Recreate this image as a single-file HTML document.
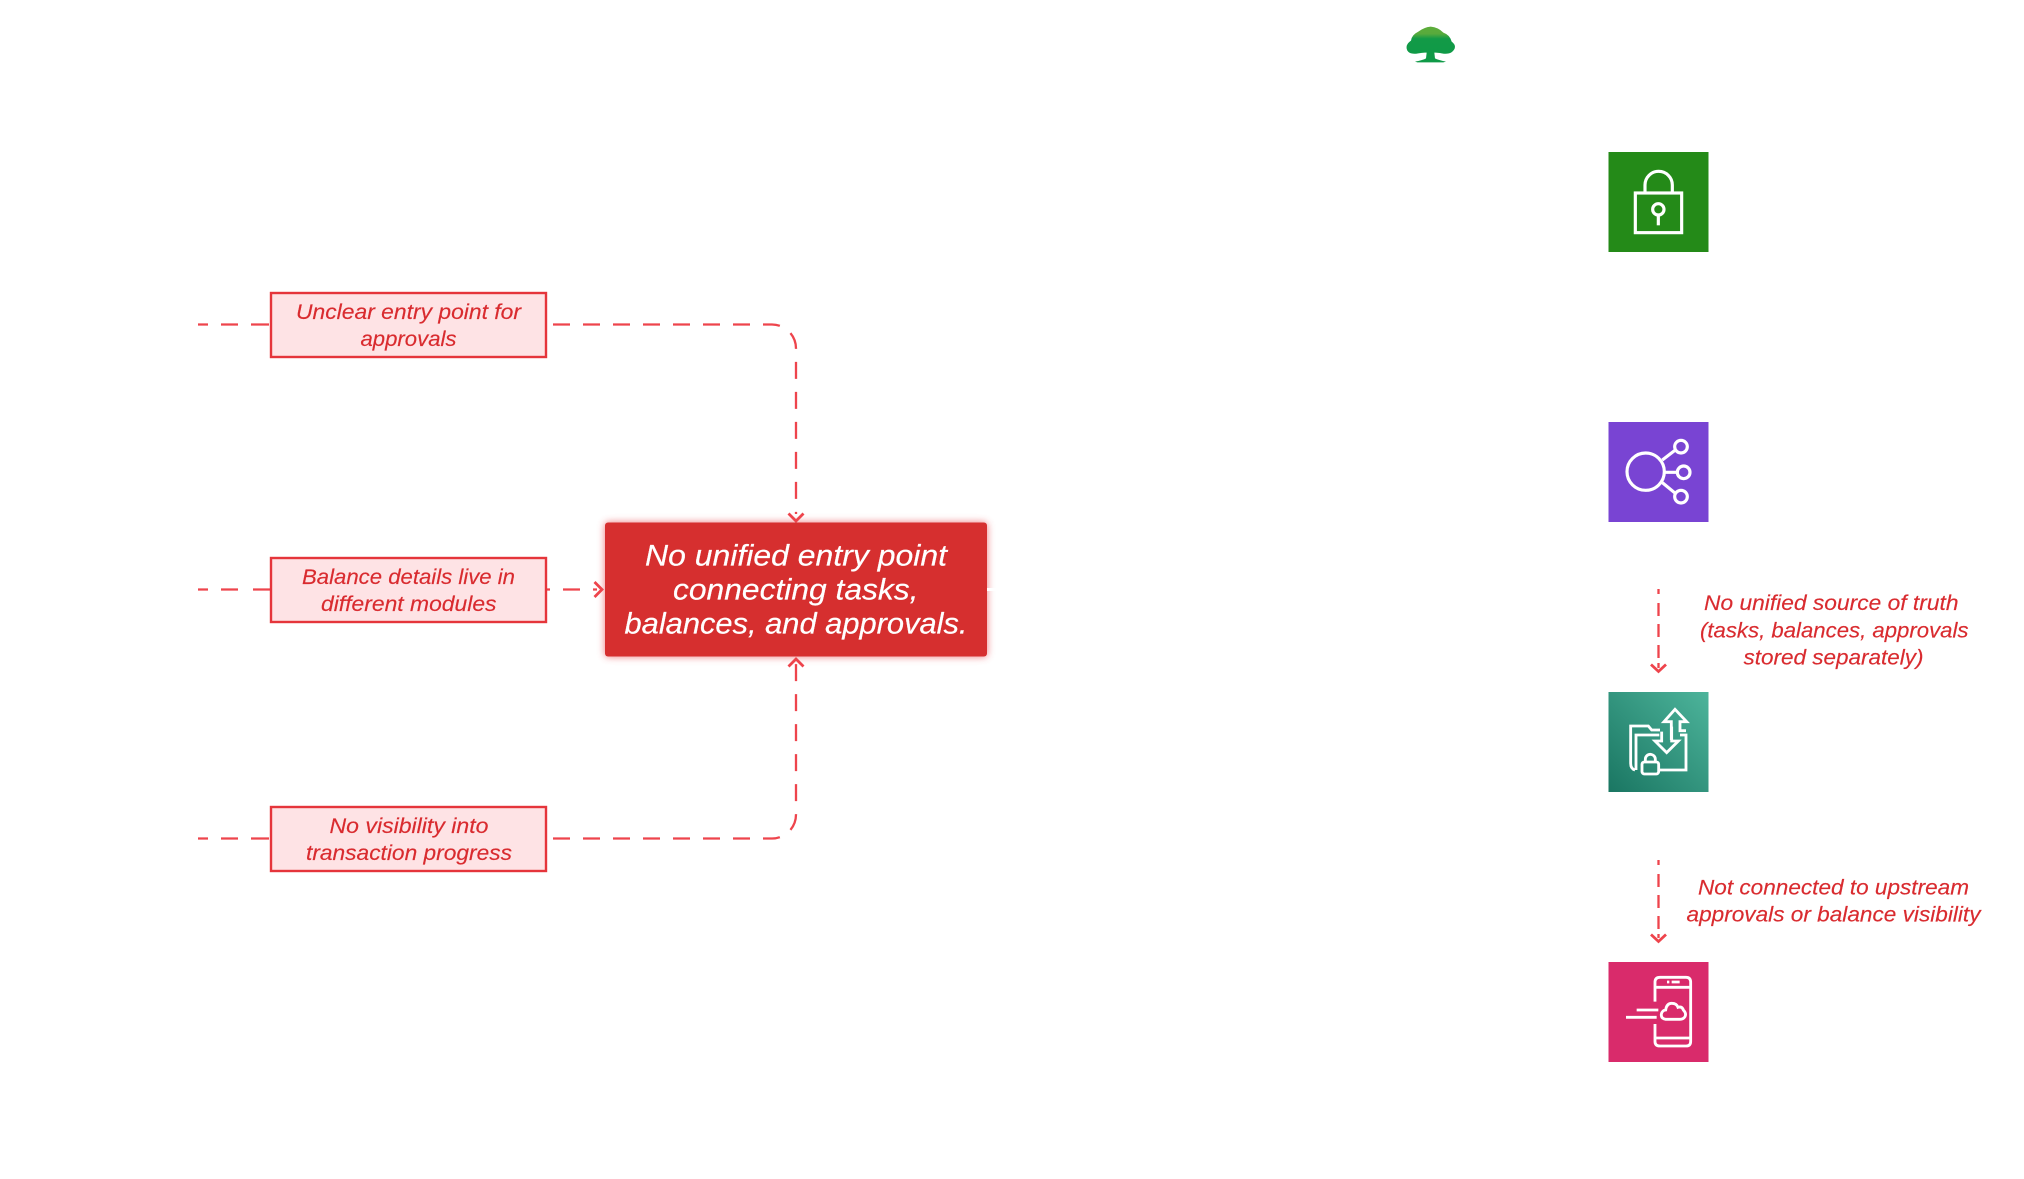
<!DOCTYPE html>
<html>
<head>
<meta charset="utf-8">
<style>
html,body{margin:0;padding:0;background:#fff;width:2024px;height:1179px;overflow:hidden}
svg{display:block}
text{font-family:"Liberation Sans",sans-serif;font-style:italic;text-anchor:start}
.s{font-size:21.5px;fill:#d92b2f;stroke:#d92b2f;stroke-width:.15}
.m{font-size:30px;fill:#fff;stroke:#fff;stroke-width:.2}
.d{fill:none;stroke:#ee444c;stroke-width:2.3}
.c{fill:none;stroke:#ee444c;stroke-width:2.8}
.b{fill:#fee3e5;stroke:#e5353b;stroke-width:2.4}
.i{fill:none;stroke:#fff;stroke-width:9.5;stroke-linejoin:miter}
</style>
</head>
<body>
<svg width="2024" height="1179" viewBox="0 0 2024 1179" xmlns="http://www.w3.org/2000/svg">
<defs>
<linearGradient id="teal" x1="0" y1="1" x2="1" y2="0"><stop offset="0" stop-color="#1a7662"/><stop offset="1" stop-color="#4db49b"/></linearGradient>
<linearGradient id="tree" x1="0" y1="0" x2="0" y2="1"><stop offset="0" stop-color="#5dad3a"/><stop offset=".2" stop-color="#58aa3c"/><stop offset=".34" stop-color="#129a47"/><stop offset="1" stop-color="#0f9a47"/></linearGradient>
<filter id="glow" x="-10%" y="-20%" width="120%" height="140%"><feGaussianBlur stdDeviation="4"/></filter>
</defs>

<!-- logo -->
<g transform="translate(1400,10) scale(.3333)">
<path fill="url(#tree)" d="M92 50Q115 52 130 68Q150 75 155 95Q172 108 160 122Q150 135 125 130Q110 127 103 128L105 145Q115 150 138 155L130 157H52L45 155Q70 150 78 145L80 128Q70 127 55 130Q30 135 22 122Q14 105 33 92Q35 75 55 65Q72 52 92 50Z"/>
</g>

<!-- left connectors -->
<path class="d" stroke-dasharray="10 13 17 13 18" d="M198 324.5H270"/>
<path class="d" stroke-dasharray="10 13 17 15 18" d="M198 589.5H270"/>
<path class="d" stroke-dasharray="10 13 17 13 18" d="M198 838.5H270"/>

<path class="d" stroke-dasharray="17 13" d="M553 324.5H772A24 24 0 0 1 796 348.5V514"/>
<path class="c" d="M788.5 513.5L796 521L803.5 513.5"/>

<path class="d" stroke-dasharray="4 13 17 13" d="M546 589.5H601"/>
<path class="c" d="M594.5 582L602 589.5L594.5 597"/>

<path class="d" stroke-dasharray="17 13" d="M553 838.5H772A24 24 0 0 0 796 814.5V664"/>
<path class="c" d="M788.5 666.5L796 659L803.5 666.5"/>

<!-- small boxes -->
<rect class="b" x="271" y="293" width="275" height="64"/>
<rect class="b" x="271" y="558" width="275" height="64"/>
<rect class="b" x="271" y="807" width="275" height="64"/>

<text class="s" x="296" y="319" textLength="225" lengthAdjust="spacingAndGlyphs">Unclear entry point for</text>
<text class="s" x="360.5" y="346" textLength="96" lengthAdjust="spacingAndGlyphs">approvals</text>
<text class="s" x="302" y="584" textLength="213" lengthAdjust="spacingAndGlyphs">Balance details live in</text>
<text class="s" x="321" y="611" textLength="175.500" lengthAdjust="spacingAndGlyphs">different modules</text>
<text class="s" x="329.5" y="833" textLength="159" lengthAdjust="spacingAndGlyphs">No visibility into</text>
<text class="s" x="306" y="860" textLength="206" lengthAdjust="spacingAndGlyphs">transaction progress</text>

<!-- main box -->
<rect x="605" y="522.5" width="382" height="134" rx="3" fill="#e8474c" opacity=".75" filter="url(#glow)"/>
<path d="M987 589.500H996" stroke="#fff" stroke-width="3"/>
<rect x="605" y="522.5" width="382" height="134" rx="3" fill="#d62f2f"/>
<text class="m" x="645" y="565.5" textLength="302" lengthAdjust="spacingAndGlyphs">No unified entry point</text>
<text class="m" x="673" y="599.5" textLength="245.500" lengthAdjust="spacingAndGlyphs">connecting tasks,</text>
<text class="m" x="624.500" y="633.5" textLength="343" lengthAdjust="spacingAndGlyphs">balances, and approvals.</text>

<!-- lock icon -->
<rect x="1608.5" y="152" width="100" height="100" fill="#248a18"/>
<g transform="translate(1600,140) scale(.3333)" class="i">
<rect x="106" y="159" width="139" height="119"/>
<path d="M135 158V135A41 41 0 0 1 217 135V158"/>
<circle cx="175" cy="208" r="17"/>
<path d="M175 225V256"/>
</g>

<!-- hub icon -->
<rect x="1608.5" y="422" width="100" height="100" fill="#7944d3"/>
<g transform="translate(1600,410) scale(.3333)" class="i">
<circle cx="137" cy="185" r="56"/>
<circle cx="243" cy="110" r="19"/>
<circle cx="251" cy="187" r="19"/>
<circle cx="243" cy="260" r="19"/>
<path d="M187 150L226 120M195 187H232M187 218L226 250"/>
</g>

<!-- transfer icon -->
<rect x="1608.5" y="692" width="100" height="100" fill="url(#teal)"/>
<g transform="translate(1600,680) scale(.3333)" class="i" style="stroke-width:8.5">
<path d="M105 270Q92 266 92 250V138H145L155 150H180"/>
<path d="M108 270V165H178"/>
<path d="M240 165H258V270H176"/>
<path d="M185 155V183H165L200 218L235 183H215V140"/>
<path d="M214 180V125H192L225 88L260 125H240V152H258"/>
<rect x="126" y="246" width="50" height="36" rx="7"/>
<path d="M136 246V238A15 15 0 0 1 166 238V246"/>
</g>

<!-- mobile icon -->
<rect x="1608.5" y="962" width="100" height="100" fill="#d92b6b"/>
<g transform="translate(1600,950) scale(.3333)" class="i" style="stroke-width:8.5">
<path d="M165 155V97Q165 82 180 82H258Q272 82 272 97V274Q272 288 258 288H180Q165 288 165 274V222"/>
<path d="M165 112H272M165 264H272"/>
<path d="M201 96H208M215 96H239"/>
<path d="M110 180H175M78 202H170"/>
<path d="M197 208Q183 206 184 193Q186 181 197 180Q200 160 215 160Q230 160 234 172Q246 168 250 180Q260 190 255 200Q250 208 240 208Z"/>
</g>

<!-- right connectors -->
<path class="d" stroke-dasharray="5 9 13 8 13 8 13" d="M1658.5 589V668"/>
<path class="c" d="M1651 664.500L1658.500 671.500L1666 664.500"/>
<path class="d" stroke-dasharray="5 9 13 8 13 8 13" d="M1658.5 860V938"/>
<path class="c" d="M1651 934.500L1658.500 941.500L1666 934.500"/>

<text class="s" x="1704" y="610" textLength="254.500" lengthAdjust="spacingAndGlyphs">No unified source of truth</text>
<text class="s" x="1700" y="637.500" textLength="268.500" lengthAdjust="spacingAndGlyphs">(tasks, balances, approvals</text>
<text class="s" x="1743.500" y="664.500" textLength="180" lengthAdjust="spacingAndGlyphs">stored separately)</text>
<text class="s" x="1698" y="894.500" textLength="271" lengthAdjust="spacingAndGlyphs">Not connected to upstream</text>
<text class="s" x="1686.500" y="921.500" textLength="294" lengthAdjust="spacingAndGlyphs">approvals or balance visibility</text>
</svg>
</body>
</html>
